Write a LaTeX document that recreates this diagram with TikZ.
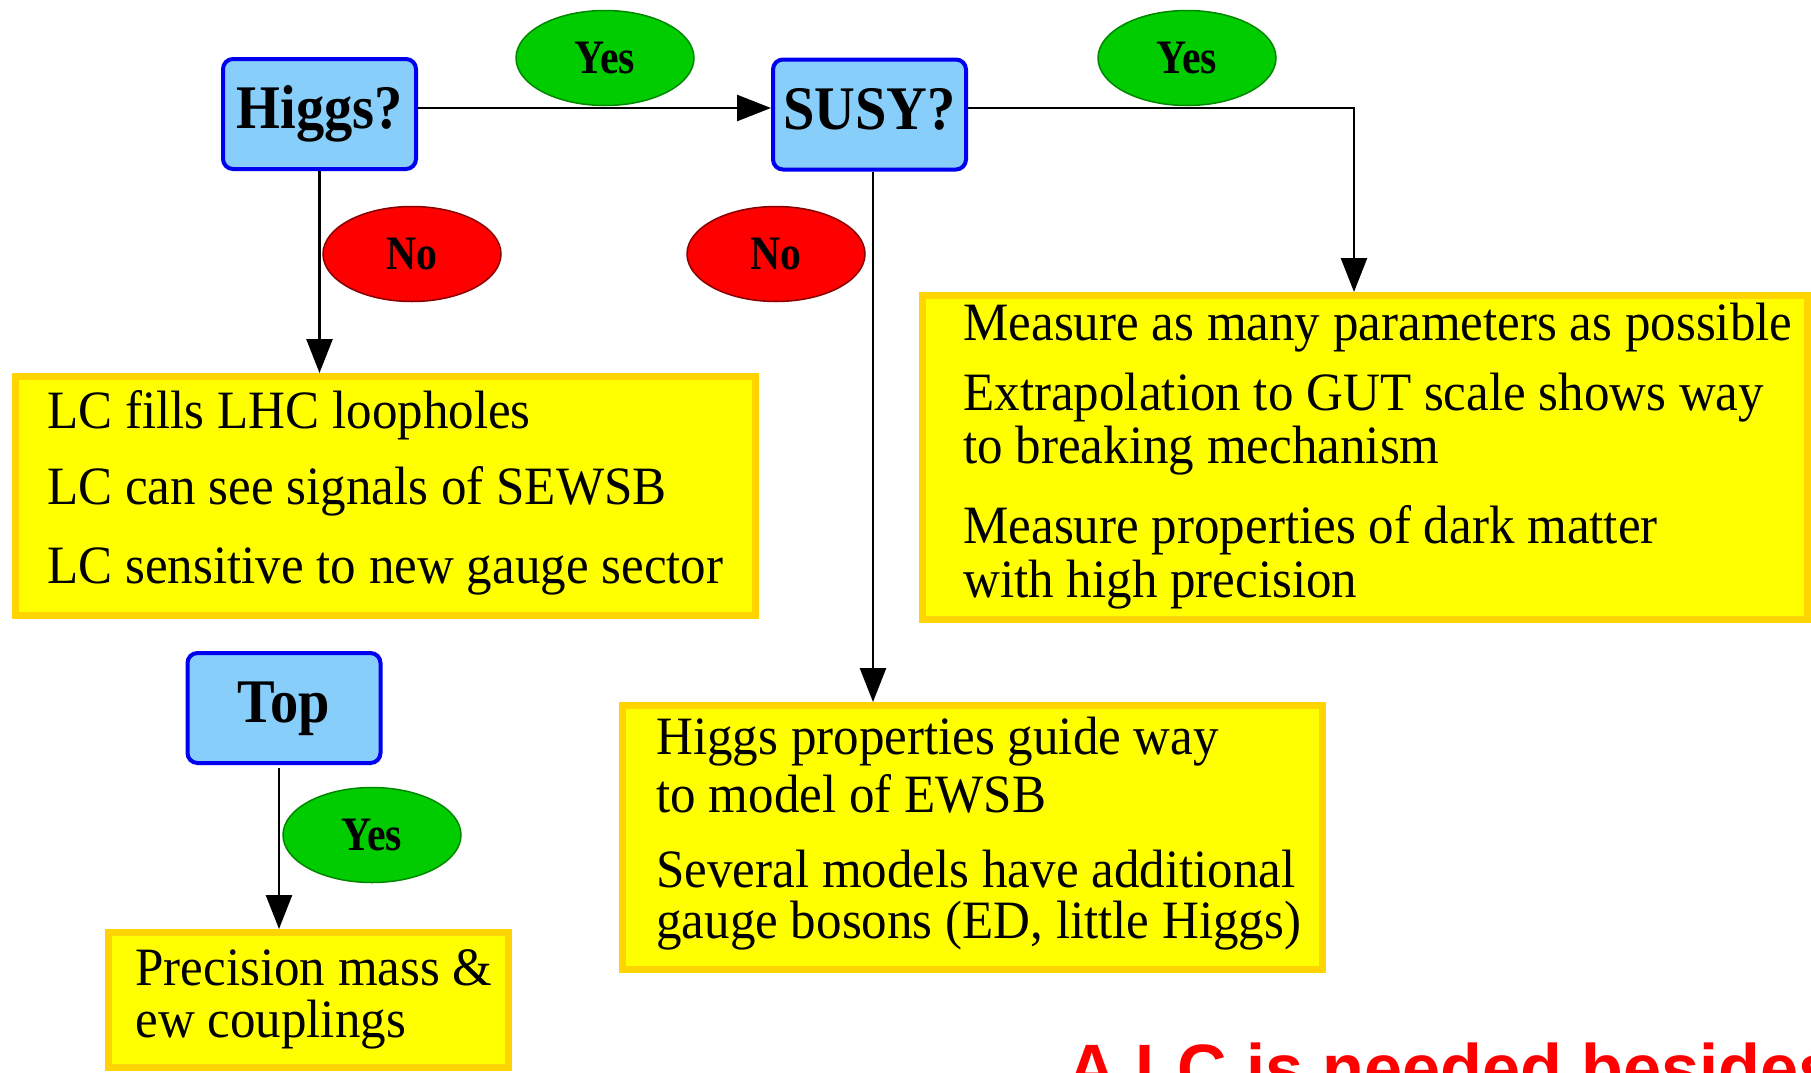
\documentclass[tikz,border=0pt]{standalone}
\usepackage{fontspec}
\usetikzlibrary{arrows.meta,shapes.geometric}
\newfontfamily\titlefont[FakeStretch=0.91]{Liberation Serif}
\newfontfamily\bodyfont[FakeStretch=0.945]{Liberation Serif}
\newfontfamily\labfont[FakeStretch=0.87]{Liberation Serif}
\newfontfamily\notefont{Liberation Sans}
\definecolor{qfill}{HTML}{87CEFA}
\definecolor{qedge}{HTML}{0000F0}
\definecolor{yesfill}{HTML}{00CC00}
\definecolor{yesedge}{HTML}{008800}
\definecolor{nofill}{HTML}{FF0000}
\definecolor{noedge}{HTML}{880000}
\definecolor{boxfill}{HTML}{FFFF00}
\definecolor{boxedge}{HTML}{FFD400}
\definecolor{notered}{HTML}{FF0000}
\tikzset{
  question/.style={draw=qedge, fill=qfill, line width=2pt, rounded corners=5pt,
    minimum width=96.5pt, minimum height=55pt, inner sep=0pt,
    font=\titlefont\bfseries\fontsize{31}{36}\selectfont,
    text height=21.7pt, text depth=6.8pt},
  answer/.style={ellipse, line width=0.75pt, minimum width=89pt, minimum height=47.5pt,
    inner sep=0pt, font=\labfont\bfseries\fontsize{24}{28}\selectfont},
  yesmark/.style={answer, draw=yesedge, fill=yesfill},
  nomark/.style={answer, draw=noedge, fill=nofill},
  infobox/.style={draw=boxedge, fill=boxfill, line width=3.5pt, inner sep=0pt},
  line/.style={anchor=base west, inner sep=0pt, font=\bodyfont\fontsize{27}{32}\selectfont},
  link/.style={line width=1.3pt, -{Triangle[length=17pt,width=13pt]}}
}
\begin{document}
\begin{tikzpicture}[x=0.5pt,y=-0.5pt]
\useasboundingbox (0,0) rectangle (1811,1072);
\clip (0,0) rectangle (1811,1072);

% question boxes
\node[question] (higgs) at (319.5,114) {Higgs?};
\node[question] (susy) at (869.5,114.5) {SUSY?};
\node[question] (top) at (284,708) {Top};

% outcome boxes
\node[infobox, minimum width=370pt, minimum height=119.5pt] (lc) at (385.5,496) {};
\node[infobox, minimum width=442.5pt, minimum height=162pt] (meas) at (1365,457.5) {};
\node[infobox, minimum width=350pt, minimum height=132pt] (prop) at (972.5,837.5) {};
\node[infobox, minimum width=200pt, minimum height=67.5pt] (prec) at (308.5,1000) {};

% connectors
\coordinate (bend) at (1354,108);
\coordinate (rowy) at (0,108);
\draw[link] (higgs.east |- rowy) -- (susy.west |- rowy);
\draw[link] (susy.east |- rowy) -| (bend |- meas.north);
\draw[link] (higgs.south) -- (higgs.south |- lc.north);
\draw[link] ([xshift=1.75pt]susy.south) -- ([xshift=1.75pt]susy.south |- prop.north);
\draw[link] ([xshift=-2.5pt,yshift=-1.5pt]top.south) -- ([xshift=-2.5pt]top.south |- prec.north);

% answer labels
\node[yesmark] (y1) at (605,58) {Yes};
\node[yesmark] (y2) at (1187,58) {Yes};
\node[nomark] (n1) at (412,254) {No};
\node[nomark] (n2) at (776,254) {No};
\node[yesmark] (y3) at (372,835) {Yes};

% box texts
\node[line] (lc1) at (47,428) {LC fills LHC loopholes};
\node[line] (lc2) at (47,504) {LC can see signals of SEWSB};
\node[line] (lc3) at (47,583) {LC sensitive to new gauge sector};

\node[line] (m1) at (963,340) {Measure as many parameters as possible};
\node[line] (m2) at (963,410) {Extrapolation to GUT scale shows way};
\node[line] (m3) at (963,463) {to breaking mechanism};
\node[line] (m4) at (963,543) {Measure properties of dark matter};
\node[line] (m5) at (963,597) {with high precision};

\node[line] (p1) at (656,754) {Higgs properties guide way};
\node[line] (p2) at (656,812) {to model of EWSB};
\node[line] (p3) at (656,887) {Several models have additional};
\node[line] (p4) at (656,938) {gauge bosons (ED, little Higgs)};

\node[line] (t1) at (135,985) {Precision mass \&};
\node[line] (t2) at (135,1037) {ew couplings};

% closing statement
\node[anchor=base west, inner sep=0pt, text=notered,
      font=\notefont\bfseries\fontsize{34.25}{40}\selectfont] (msg) at (1067,1092) {A LC is needed besides};
\end{tikzpicture}
\end{document}
